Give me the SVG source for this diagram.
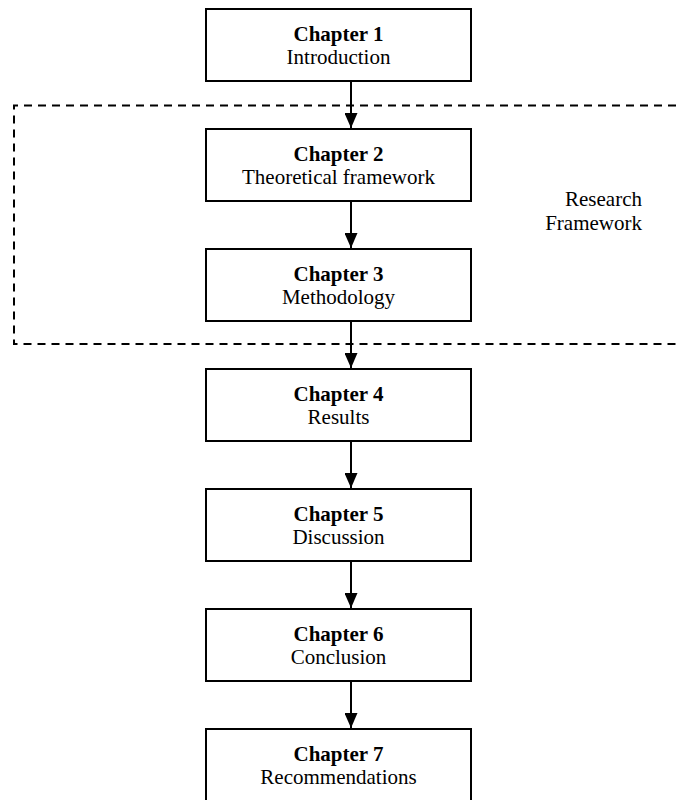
<svg xmlns="http://www.w3.org/2000/svg" width="677" height="800" viewBox="0 0 677 800">
  <style>
    .box { fill: #ffffff; stroke: #000000; stroke-width: 2; }
    .title { font-family: "Liberation Serif", "Times New Roman", serif; font-size: 21px; font-weight: bold; text-anchor: middle; fill: #000000; }
    .sub { font-family: "Liberation Serif", "Times New Roman", serif; font-size: 21px; text-anchor: middle; fill: #000000; }
    .note { font-family: "Liberation Serif", "Times New Roman", serif; font-size: 21px; text-anchor: end; fill: #000000; }
    .link { stroke: #000000; stroke-width: 2; fill: none; }
    .frame { stroke: #000000; stroke-width: 2; fill: none; stroke-dasharray: 8 6; }
  </style>
  <defs>
    <!-- solid triangular arrowhead, tip at the end of the line -->
    <marker id="arrow" viewBox="0 0 15 13" refX="15" refY="6.5" markerWidth="15" markerHeight="13" markerUnits="userSpaceOnUse" orient="auto">
      <path d="M0,0 L15,6.5 L0,13 Z" fill="#000000"/>
    </marker>
  </defs>

  <!-- research framework boundary (open on the right) -->
  <g id="research-framework">
    <path class="frame" d="M690,105.5 L14,105.5 L14,344 L690,344"/>
    <text class="note" x="642" y="206">Research</text>
    <text class="note" x="642" y="230">Framework</text>
  </g>

  <!-- chapter boxes -->
  <g id="chapter1">
    <rect class="box" x="206" y="9" width="265" height="72"/>
    <text class="title" x="338.5" y="40.7">Chapter 1</text>
    <text class="sub" x="338.5" y="64.3">Introduction</text>
  </g>
  <g id="chapter2">
    <rect class="box" x="206" y="129" width="265" height="72"/>
    <text class="title" x="338.5" y="160.7">Chapter 2</text>
    <text class="sub" x="338.5" y="184.3">Theoretical framework</text>
  </g>
  <g id="chapter3">
    <rect class="box" x="206" y="249" width="265" height="72"/>
    <text class="title" x="338.5" y="280.7">Chapter 3</text>
    <text class="sub" x="338.5" y="304.3">Methodology</text>
  </g>
  <g id="chapter4">
    <rect class="box" x="206" y="369" width="265" height="72"/>
    <text class="title" x="338.5" y="400.7">Chapter 4</text>
    <text class="sub" x="338.5" y="424.3">Results</text>
  </g>
  <g id="chapter5">
    <rect class="box" x="206" y="489" width="265" height="72"/>
    <text class="title" x="338.5" y="520.7">Chapter 5</text>
    <text class="sub" x="338.5" y="544.3">Discussion</text>
  </g>
  <g id="chapter6">
    <rect class="box" x="206" y="609" width="265" height="72"/>
    <text class="title" x="338.5" y="640.7">Chapter 6</text>
    <text class="sub" x="338.5" y="664.3">Conclusion</text>
  </g>
  <g id="chapter7">
    <rect class="box" x="206" y="729" width="265" height="72"/>
    <text class="title" x="338.5" y="760.7">Chapter 7</text>
    <text class="sub" x="338.5" y="784.3">Recommendations</text>
  </g>

  <!-- connectors -->
  <g id="connectors">
    <line class="link" x1="351" y1="82" x2="351" y2="128" marker-end="url(#arrow)"/>
    <line class="link" x1="351" y1="202" x2="351" y2="248" marker-end="url(#arrow)"/>
    <line class="link" x1="351" y1="322" x2="351" y2="368" marker-end="url(#arrow)"/>
    <line class="link" x1="351" y1="442" x2="351" y2="488" marker-end="url(#arrow)"/>
    <line class="link" x1="351" y1="562" x2="351" y2="608" marker-end="url(#arrow)"/>
    <line class="link" x1="351" y1="682" x2="351" y2="728" marker-end="url(#arrow)"/>
  </g>
</svg>
